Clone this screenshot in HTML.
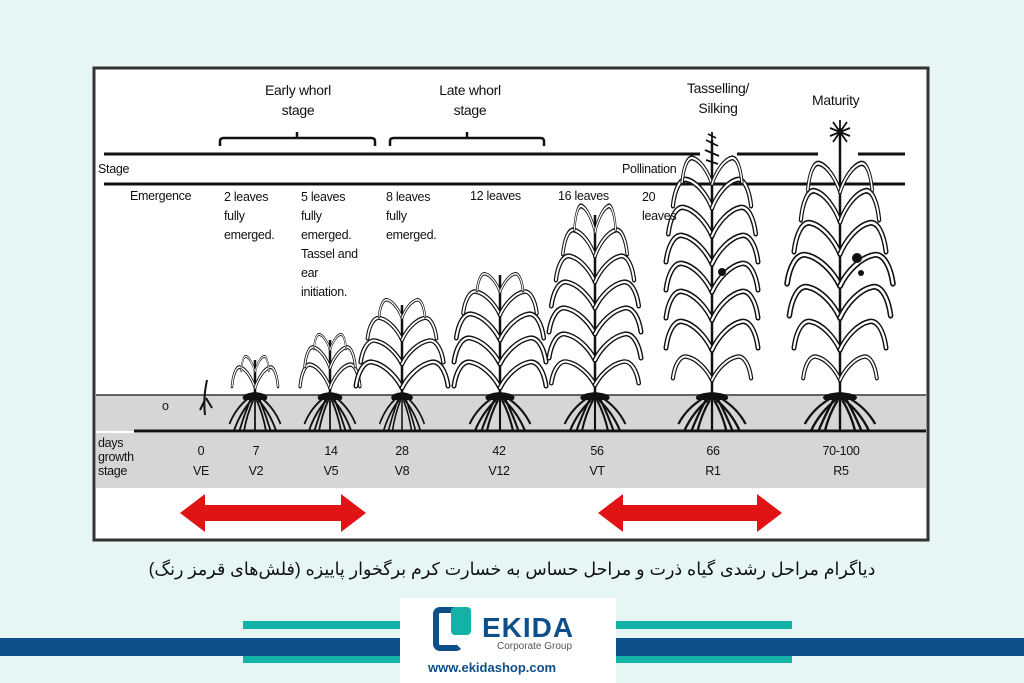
<!DOCTYPE html>
<html><head><meta charset="utf-8"><style>
html,body{margin:0;padding:0}
body{width:1024px;height:683px;background:#e6f6f5;position:relative;overflow:hidden;font-family:"Liberation Sans",sans-serif}
.t{position:absolute;font-size:12.5px;color:#111;letter-spacing:-0.3px;line-height:16px}
</style></head><body>
<svg width="1024" height="683" style="position:absolute;left:0;top:0">
<defs>
<path id="lf" d="M0,0 C-6,-12 -18,-24 -30,-26 C-38,-27 -44,-16 -46,-2"/>
<g id="lp">
<use href="#lf" fill="none" stroke="#111" stroke-width="5" stroke-linecap="round"/>
<use href="#lf" fill="none" stroke="#fff" stroke-width="2.2" stroke-linecap="round"/>
<g transform="scale(-1,1)">
<use href="#lf" fill="none" stroke="#111" stroke-width="5" stroke-linecap="round"/>
<use href="#lf" fill="none" stroke="#fff" stroke-width="2.2" stroke-linecap="round"/>
</g>
</g>
<g id="rt">
<path d="M-14,0 Q-20,-6 0,-8 Q20,-6 14,0 Z" fill="#111"/>
<g stroke="#111" stroke-width="2.2" fill="none">
<path d="M-4,0 Q-18,12 -26,30"/><path d="M-2,0 Q-10,14 -14,32"/><path d="M0,0 L0,32"/>
<path d="M2,0 Q10,14 14,32"/><path d="M4,0 Q18,12 26,30"/><path d="M-8,-2 Q-24,8 -32,24"/><path d="M8,-2 Q24,8 32,24"/>
<path d="M-6,0 Q-14,16 -20,32"/><path d="M6,0 Q14,16 20,32"/>
</g></g>
</defs>
<rect x="94" y="68" width="834" height="472" fill="#fff" stroke="#333" stroke-width="3"/>
<rect x="96" y="395" width="830" height="36" fill="#d6d6d6"/>
<rect x="96" y="433" width="830" height="55" fill="#d6d6d6"/>
<line x1="96" y1="395" x2="926" y2="395" stroke="#333" stroke-width="1.5"/>
<line x1="134" y1="431" x2="926" y2="431" stroke="#111" stroke-width="3"/>
<g stroke="#111" stroke-width="3">
<line x1="104" y1="154" x2="700" y2="154"/><line x1="737" y1="154" x2="818" y2="154"/><line x1="858" y1="154" x2="905" y2="154"/>
<line x1="104" y1="184" x2="905" y2="184"/>
</g>
<g fill="none" stroke="#111" stroke-width="2.5">
<path d="M220,146 L220,141 Q220,138 224,138 L371,138 Q375,138 375,141 L375,146 M297,138 L297,132"/>
<path d="M390,146 L390,141 Q390,138 394,138 L540,138 Q544,138 544,141 L544,146 M467,138 L467,132"/>
</g>
<path d="M180,513 L205,494 L205,505 L341,505 L341,494 L366,513 L341,532 L341,521 L205,521 L205,532 Z" fill="#e01414"/>
<path d="M598,513 L623,494 L623,505 L757,505 L757,494 L782,513 L757,532 L757,521 L623,521 L623,532 Z" fill="#e01414"/>
<g stroke="#111" stroke-width="2.5">
<line x1="255" y1="395" x2="255" y2="360"/><line x1="330" y1="395" x2="330" y2="340"/>
<line x1="402" y1="395" x2="402" y2="305"/><line x1="500" y1="395" x2="500" y2="275"/>
<line x1="595" y1="395" x2="595" y2="215"/><line x1="712" y1="395" x2="712" y2="140"/><line x1="840" y1="395" x2="840" y2="128"/>
</g>
<path d="M205,415 Q203,398 207,380 M205,400 L200,410 M206,398 L212,408" stroke="#111" stroke-width="2" fill="none"/>
<use href="#lp" transform="translate(255,388) scale(.5,.8)"/><use href="#lp" transform="translate(255,372) scale(.3,.6)"/>
<use href="#lp" transform="translate(330,388) scale(.65,.9)"/><use href="#lp" transform="translate(330,368) scale(.55,.8)"/><use href="#lp" transform="translate(330,350) scale(.35,.6)"/>
<use href="#lp" transform="translate(402,388) scale(1,1)"/><use href="#lp" transform="translate(402,364) scale(.9,.9)"/><use href="#lp" transform="translate(402,340) scale(.75,.85)"/><use href="#lp" transform="translate(402,318) scale(.5,.7)"/>
<use href="#lp" transform="translate(500,388) scale(1,1)"/><use href="#lp" transform="translate(500,364) scale(1,1)"/><use href="#lp" transform="translate(500,340) scale(.95,1)"/><use href="#lp" transform="translate(500,315) scale(.8,.9)"/><use href="#lp" transform="translate(500,292) scale(.5,.7)"/>
<use href="#lp" transform="translate(595,385) scale(.95,.9)"/><use href="#lp" transform="translate(595,360) scale(1,1)"/><use href="#lp" transform="translate(595,334) scale(1,1)"/><use href="#lp" transform="translate(595,308) scale(.95,1)"/><use href="#lp" transform="translate(595,282) scale(.85,1)"/><use href="#lp" transform="translate(595,256) scale(.7,1)"/><use href="#lp" transform="translate(595,232) scale(.45,1)"/>
<use href="#lp" transform="translate(712,380) scale(.85,.9)"/><use href="#lp" transform="translate(712,350) scale(1,1.1)"/><use href="#lp" transform="translate(712,320) scale(1,1.1)"/><use href="#lp" transform="translate(712,292) scale(1,1.1)"/><use href="#lp" transform="translate(712,264) scale(1,1.1)"/><use href="#lp" transform="translate(712,236) scale(.95,1.1)"/><use href="#lp" transform="translate(712,208) scale(.85,1.1)"/><use href="#lp" transform="translate(712,184) scale(.65,1)"/>
<use href="#lp" transform="translate(840,380) scale(.8,.9)"/><use href="#lp" transform="translate(840,350) scale(1,1.1)"/><use href="#lp" transform="translate(840,318) scale(1.1,1.2)"/><use href="#lp" transform="translate(840,286) scale(1.15,1.2)"/><use href="#lp" transform="translate(840,254) scale(1,1.2)"/><use href="#lp" transform="translate(840,222) scale(.85,1.2)"/><use href="#lp" transform="translate(840,192) scale(.7,1.1)"/>
<g stroke="#111" stroke-width="1.8">
<path d="M712,132 L712,170 M706,140 L718,146 M705,150 L719,156 M706,160 L718,164 M708,134 L716,138"/>
<path d="M840,122 L840,150 M830,128 L850,136 M830,136 L850,128 M840,120 L840,140 M833,122 L847,142 M847,122 L833,142"/>
</g>
<circle cx="722" cy="272" r="4" fill="#111"/><circle cx="857" cy="258" r="5" fill="#111"/><circle cx="861" cy="273" r="3" fill="#111"/>
<use href="#rt" transform="translate(255,400) scale(.8,1)"/><use href="#rt" transform="translate(330,400) scale(.8,1)"/>
<use href="#rt" transform="translate(402,400) scale(.7,1)"/><use href="#rt" transform="translate(500,400) scale(.95,1)"/>
<use href="#rt" transform="translate(595,400) scale(.95,1)"/><use href="#rt" transform="translate(712,400) scale(1.05,1)"/><use href="#rt" transform="translate(840,400) scale(1.1,1)"/>
</svg>
<div class="t" style="left:248px;top:80px;font-size:14px;text-align:center;width:100px;line-height:20px">Early whorl<br>stage</div>
<div class="t" style="left:420px;top:80px;font-size:14px;text-align:center;width:100px;line-height:20px">Late whorl<br>stage</div>
<div class="t" style="left:668px;top:78px;font-size:14px;text-align:center;width:100px;line-height:20px">Tasselling/<br>Silking</div>
<div class="t" style="left:812px;top:92px;font-size:14px">Maturity</div>
<div class="t" style="left:98px;top:161px">Stage</div>
<div class="t" style="left:622px;top:161px">Pollination</div>
<div class="t" style="left:130px;top:188px">Emergence</div>
<div class="t" style="left:224px;top:188px;line-height:19px">2 leaves<br>fully<br>emerged.</div>
<div class="t" style="left:301px;top:188px;line-height:19px">5 leaves<br>fully<br>emerged.<br>Tassel and<br>ear<br>initiation.</div>
<div class="t" style="left:386px;top:188px;line-height:19px">8 leaves<br>fully<br>emerged.</div>
<div class="t" style="left:470px;top:188px">12 leaves</div>
<div class="t" style="left:558px;top:188px">16 leaves</div>
<div class="t" style="left:642px;top:188px;line-height:19px">20<br>leaves</div>
<div class="t" style="left:162px;top:398px">o</div>
<div class="t" style="left:98px;top:436px;line-height:14px">days<br>growth<br>stage</div>
<div class="t" style="left:191px;top:441px;line-height:20px;text-align:center;width:20px">0<br>VE</div>
<div class="t" style="left:245px;top:441px;line-height:20px;text-align:center;width:22px">7<br>V2</div>
<div class="t" style="left:320px;top:441px;line-height:20px;text-align:center;width:22px">14<br>V5</div>
<div class="t" style="left:391px;top:441px;line-height:20px;text-align:center;width:22px">28<br>V8</div>
<div class="t" style="left:484px;top:441px;line-height:20px;text-align:center;width:30px">42<br>V12</div>
<div class="t" style="left:586px;top:441px;line-height:20px;text-align:center;width:22px">56<br>VT</div>
<div class="t" style="left:702px;top:441px;line-height:20px;text-align:center;width:22px">66<br>R1</div>
<div class="t" style="left:816px;top:441px;line-height:20px;text-align:center;width:50px">70-100<br>R5</div>
<div style="position:absolute;left:0;width:1024px;top:559px;text-align:center;font-family:'Liberation Sans','DejaVu Sans',sans-serif;font-size:17.5px;color:#111" dir="rtl">دیاگرام مراحل رشدی گیاه ذرت و مراحل حساس به خسارت کرم برگخوار پاییزه (فلش‌های قرمز رنگ)</div>
<div style="position:absolute;left:243px;top:621px;width:160px;height:8px;background:#12b3a6"></div>
<div style="position:absolute;left:243px;top:655px;width:160px;height:8px;background:#12b3a6"></div>
<div style="position:absolute;left:600px;top:621px;width:192px;height:8px;background:#12b3a6"></div>
<div style="position:absolute;left:600px;top:655px;width:192px;height:8px;background:#12b3a6"></div>
<div style="position:absolute;left:0;top:638px;width:1024px;height:18px;background:#0d4f8a"></div>
<div style="position:absolute;left:400px;top:598px;width:216px;height:85px;background:#fff"></div>
<div style="position:absolute;left:433px;top:607px;width:30px;height:44px;border:6px solid #0d4f8a;border-radius:7px;box-sizing:border-box;border-right-color:transparent"></div>
<div style="position:absolute;left:451px;top:607px;width:20px;height:28px;background:#12b3a6;border-radius:4px"></div>
<div style="position:absolute;left:482px;top:612px;font-size:28px;font-weight:bold;color:#0d4f8a;letter-spacing:1px">EKIDA</div>
<div style="position:absolute;left:497px;top:641px;font-size:10px;color:#555">Corporate Group</div>
<div style="position:absolute;left:428px;top:660px;font-size:13px;font-weight:bold;color:#0d4f8a">www.ekidashop.com</div>
</body></html>
